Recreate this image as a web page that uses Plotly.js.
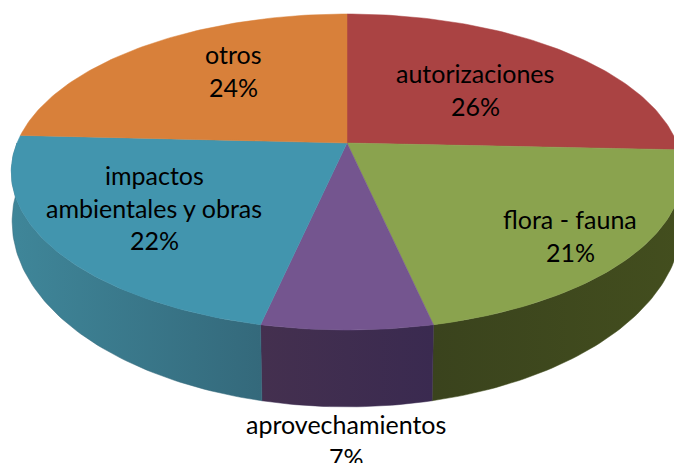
<!DOCTYPE html>
<html>
<head>
<meta charset="utf-8">
<script src="https://cdn.plot.ly/plotly-3.0.1.min.js"></script>
<style>html,body{margin:0;padding:0;background:#fff;overflow:hidden}#chart{width:674px;height:463px}</style>
</head>
<body>
<div id="chart"></div>
<script>
// Data (slice sizes estimated from the drawn angles; labels show them rounded)
const categories = ['autorizaciones', 'flora - fauna', 'aprovechamientos', 'impactos ambientales y obras', 'otros'];
const shares = [25.7, 20.85, 6.9, 22.35, 24.2];

// Text lines of each label
const labelLines = [['autorizaciones'], ['flora - fauna'], ['aprovechamientos'], ['impactos', 'ambientales y obras'], ['otros']];

// Styles
const topColors = ['#AA4343', '#8AA34E', '#74558F', '#4295AE', '#D8803A'];
const wallLeft = ['#6E2A2A', '#3A431D', '#44304F', '#3F8699', '#8A5020'];
const wallRight = ['#6E2A2A', '#434E1E', '#3A2A50', '#34697B', '#8A5020'];

// Label placement in page pixels: centre x, first line y, line step
const labelX = [475, 570, 346, 154, 233];
const labelY = [73, 219, 424, 175, 54];
const lineStep = 32.5;
const labelFont = {family: 'Lato, Carlito, sans-serif', size: 25, color: '#000'};

// Perspective model of the upper and lower discs
const cx = 347;
const upper = {cy: 143, A: 330, B: 152.7, k: 0.1835};
const lower = {cy: 190, A: 330, B: 180, k: 0.17};
function project(deg, d) {
  const t = deg * Math.PI / 180;
  const X = Math.sin(t), Y = Math.cos(t), w = 1 + d.k * Y;
  return [cx + d.A * X / w, d.cy - d.B * Y / w];
}
function arc(a0, a1, d) {
  const pts = [], n = Math.max(2, Math.ceil(Math.abs(a1 - a0)));
  for (let i = 0; i <= n; i++) pts.push(project(a0 + (a1 - a0) * i / n, d));
  return pts;
}

const total = shares.reduce((a, b) => a + b, 0);
const walls = [], tops = [];
let running = 0;
shares.forEach((v, i) => {
  const a0 = running / total * 360, a1 = (running + v) / total * 360;
  running += v;
  const centre = [cx, upper.cy];
  const top = [centre].concat(arc(a0, a1, upper));
  top.push(centre);
  tops.push({
    type: 'scatter', mode: 'lines', name: categories[i], hoverinfo: 'skip',
    x: top.map(p => p[0]), y: top.map(p => p[1]),
    fill: 'toself', fillcolor: topColors[i],
    line: {color: topColors[i], width: 0.5}
  });
  const w0 = Math.max(a0, 90), w1 = Math.min(a1, 270);
  if (w1 > w0) {
    const poly = arc(w0, w1, upper).concat(arc(w1, w0, lower));
    poly.push(poly[0]);
    walls.push({
      type: 'scatter', mode: 'lines', name: categories[i] + ' (lado)', hoverinfo: 'skip',
      x: poly.map(p => p[0]), y: poly.map(p => p[1]),
      fill: 'toself',
      fillgradient: {type: 'horizontal', colorscale: [[0, wallLeft[i]], [1, wallRight[i]]]},
      line: {color: wallRight[i], width: 0.5}
    });
  }
});

const annotations = [];
labelLines.forEach((lines, i) => {
  lines.concat([Math.round(shares[i]) + '%']).forEach((txt, j) => {
    annotations.push({
      x: labelX[i], y: labelY[i] + j * lineStep, xref: 'x', yref: 'y',
      text: txt, showarrow: false, xanchor: 'center', yanchor: 'middle', font: labelFont
    });
  });
});

Plotly.newPlot('chart', walls.concat(tops), {
  width: 674, height: 463,
  margin: {l: 0, r: 0, t: 0, b: 0},
  paper_bgcolor: '#fff', plot_bgcolor: '#fff',
  showlegend: false,
  xaxis: {range: [0, 674], visible: false, fixedrange: true},
  yaxis: {range: [463, 0], visible: false, fixedrange: true},
  annotations: annotations
}, {displayModeBar: false, staticPlot: true});
</script>
</body>
</html>
